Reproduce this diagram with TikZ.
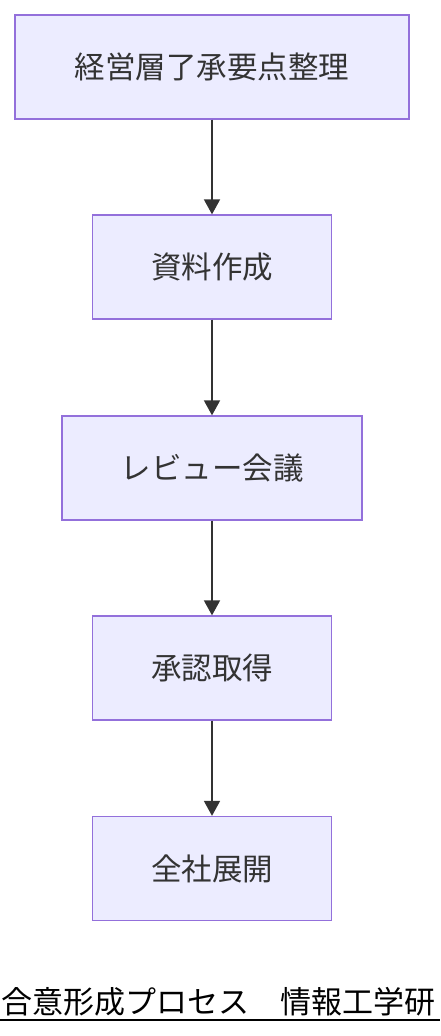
\documentclass[tikz,border=0pt]{standalone}
\usepackage{fontspec}
\newfontfamily\cjk{Noto Sans CJK JP}
\usetikzlibrary{arrows.meta}
\definecolor{boxfill}{HTML}{ECECFF}
\definecolor{boxline}{HTML}{9370DB}
\definecolor{ink}{HTML}{333333}
\tikzset{
  stepbox/.style={draw=boxline, fill=boxfill, line width=1.3pt, minimum height=104pt, inner sep=0pt, font=\cjk\fontsize{30.5}{36}\selectfont, text=ink},
  flow/.style={draw=ink, line width=1.8pt, -{Triangle[length=15pt,width=16pt]}}
}
\begin{document}
\begin{tikzpicture}[x=1pt,y=-1pt]
\useasboundingbox (0,0) rectangle (440,1036);
\clip (0,0) rectangle (440,1036);
\node[stepbox, minimum width=394pt] (a) at (212,67) {経営層了承要点整理};
\node[stepbox, minimum width=239pt] (b) at (212,267) {資料作成};
\node[stepbox, minimum width=300pt] (c) at (212,468) {レビュー会議};
\node[stepbox, minimum width=239pt] (d) at (212,668) {承認取得};
\node[stepbox, minimum width=239pt] (e) at (212,868.5) {全社展開};
\draw[flow] (a) -- (b);
\draw[flow] (b) -- (c);
\draw[flow] (c) -- (d);
\draw[flow] (d) -- (e);
\node[anchor=base west, inner sep=0pt, font=\cjk\fontsize{31}{36}\selectfont, text=black] (cap) at (1,1013) {合意形成プロセス\hspace{1em}情報工学研};
\coordinate (ul) at (0,1020);
\coordinate (ur) at (440,1020);
\draw[line width=2pt, black] (ul) -- (ur);
\end{tikzpicture}
\end{document}
